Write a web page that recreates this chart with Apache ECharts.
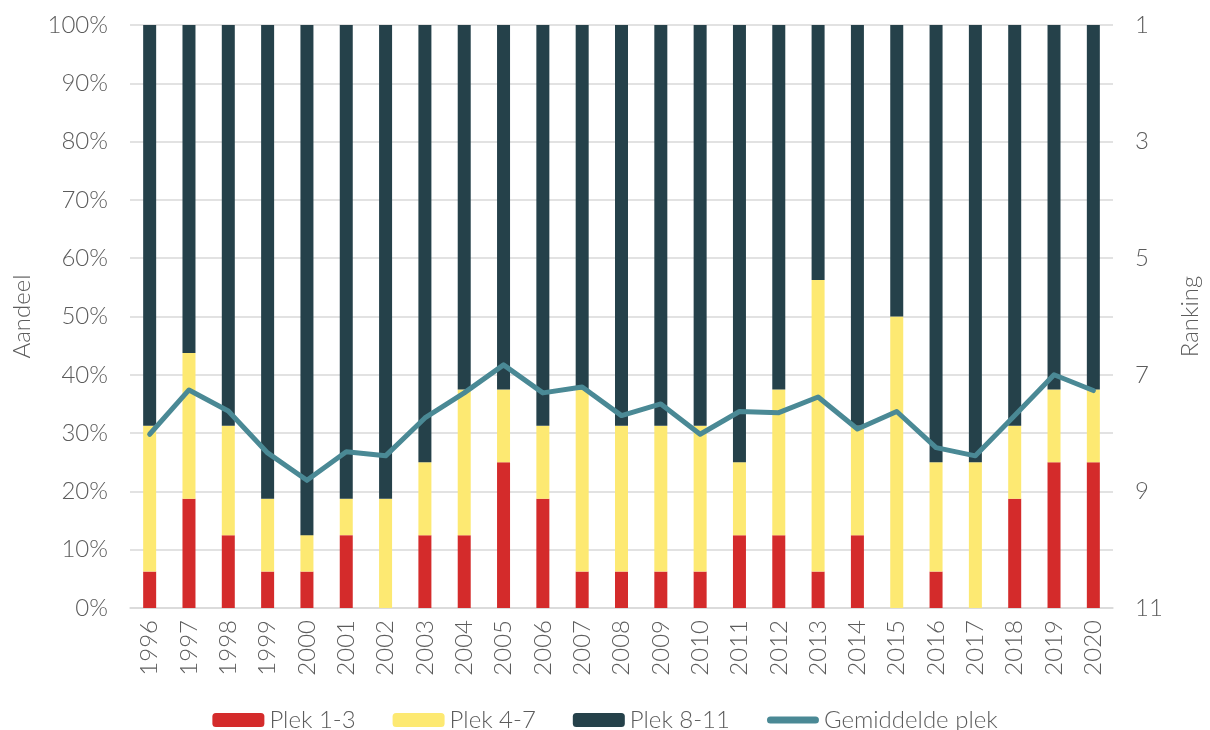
<!DOCTYPE html>
<html>
<head>
<meta charset="utf-8">
<script src="https://cdn.jsdelivr.net/npm/echarts@6/dist/echarts.min.js"></script>
<style>
  html, body { margin: 0; padding: 0; background: #fff; }
  #chart { width: 1210px; height: 730px; }
</style>
</head>
<body>
<div id="chart"></div>
<script>
// ---------- DATA ----------
const years = ['1996', '1997', '1998', '1999', '2000', '2001', '2002', '2003', '2004', '2005',
  '2006', '2007', '2008', '2009', '2010', '2011', '2012', '2013', '2014', '2015',
  '2016', '2017', '2018', '2019', '2020'];

// aandeel in procenten
const plek1_3 = [6.25, 18.75, 12.5, 6.25, 6.25, 12.5, 0, 12.5, 12.5, 25,
  18.75, 6.25, 6.25, 6.25, 6.25, 12.5, 12.5, 6.25, 12.5, 0,
  6.25, 0, 18.75, 25, 25];
const plek4_7 = [25, 25, 18.75, 12.5, 6.25, 6.25, 18.75, 12.5, 25, 12.5,
  12.5, 31.25, 25, 25, 25, 12.5, 25, 50, 18.75, 50,
  18.75, 25, 12.5, 12.5, 12.5];
const plek8_11 = [68.75, 56.25, 68.75, 81.25, 87.5, 81.25, 81.25, 75, 62.5, 62.5,
  68.75, 62.5, 68.75, 68.75, 68.75, 75, 62.5, 43.75, 68.75, 50,
  75, 75, 68.75, 62.5, 62.5];

// gemiddelde plek (rechter as)
const gemiddeldePlek = [8.02, 7.26, 7.62, 8.34, 8.81, 8.32, 8.39, 7.74, 7.31, 6.83,
  7.31, 7.21, 7.70, 7.50, 8.02, 7.63, 7.65, 7.38, 7.93, 7.63,
  8.25, 8.39, 7.70, 7.00, 7.27];

const textColor = '#5c5c5c';
const gridColor = '#d9d9d9';
const fontFam = 'Lato, "Open Sans", sans-serif';
const fs = 24;

// legend icon for the line: rounded bar (corner points keep the 52x14 box)
const lineIcon = 'path://M0,0M52,14M3.5,3.5L48.5,3.5A3.5,3.5,0,0,1,48.5,10.5L3.5,10.5A3.5,3.5,0,0,1,3.5,3.5Z';

// ---------- CHART ----------
let chart = echarts.init(document.getElementById('chart'));

let option = {
  animation: false,
  textStyle: { fontFamily: fontFam, color: textColor, fontWeight: 300 },
  grid: {
    left: 130,
    right: 92,
    top: 25,
    bottom: 122
  },
  legend: {
    bottom: -7,
    left: 'center',
    itemWidth: 52,
    itemHeight: 14,
    itemGap: 37,
    textStyle: { fontSize: fs, color: textColor, fontFamily: fontFam, fontWeight: 300 },
    data: [
      'Plek 1-3',
      'Plek 4-7',
      'Plek 8-11',
      { name: 'Gemiddelde plek', icon: lineIcon }
    ]
  },
  xAxis: {
    type: 'category',
    data: years,
    axisLine: { lineStyle: { color: gridColor, width: 1.5 } },
    axisTick: { show: false },
    axisLabel: {
      rotate: 90,
      fontSize: fs,
      color: textColor,
      fontWeight: 300,
      margin: 12
    }
  },
  yAxis: [
    {
      type: 'value',
      min: 0,
      max: 100,
      interval: 10,
      name: 'Aandeel',
      nameLocation: 'middle',
      nameGap: 96,
      nameTextStyle: { fontSize: fs, color: textColor, fontWeight: 300 },
      axisLabel: {
        formatter: '{value}%',
        fontSize: fs,
        color: textColor,
        fontWeight: 300,
        margin: 22
      },
      splitLine: { lineStyle: { color: gridColor, width: 1.5 } },
      axisLine: { show: false },
      axisTick: { show: false }
    },
    {
      type: 'value',
      inverse: true,
      min: 1,
      max: 11,
      interval: 2,
      name: 'Ranking',
      nameLocation: 'middle',
      nameGap: 65,
      nameTextStyle: { fontSize: fs, color: textColor, fontWeight: 300 },
      axisLabel: {
        fontSize: fs,
        color: textColor,
        fontWeight: 300,
        margin: 22
      },
      splitLine: { show: false },
      axisLine: { show: false },
      axisTick: { show: false }
    }
  ],
  series: [
    {
      name: 'Plek 1-3',
      type: 'bar',
      stack: 'total',
      barWidth: 13,
      itemStyle: { color: '#d42b2b' },
      data: plek1_3
    },
    {
      name: 'Plek 4-7',
      type: 'bar',
      stack: 'total',
      barWidth: 13,
      itemStyle: { color: '#fde972' },
      data: plek4_7
    },
    {
      name: 'Plek 8-11',
      type: 'bar',
      stack: 'total',
      barWidth: 13,
      itemStyle: { color: '#25414a' },
      data: plek8_11
    },
    {
      name: 'Gemiddelde plek',
      type: 'line',
      yAxisIndex: 1,
      symbol: 'none',
      lineStyle: { color: '#4a8995', width: 5, cap: 'round', join: 'round' },
      itemStyle: { color: '#4a8995' },
      data: gemiddeldePlek,
      z: 5
    }
  ]
};

chart.setOption(option);
</script>
</body>
</html>
